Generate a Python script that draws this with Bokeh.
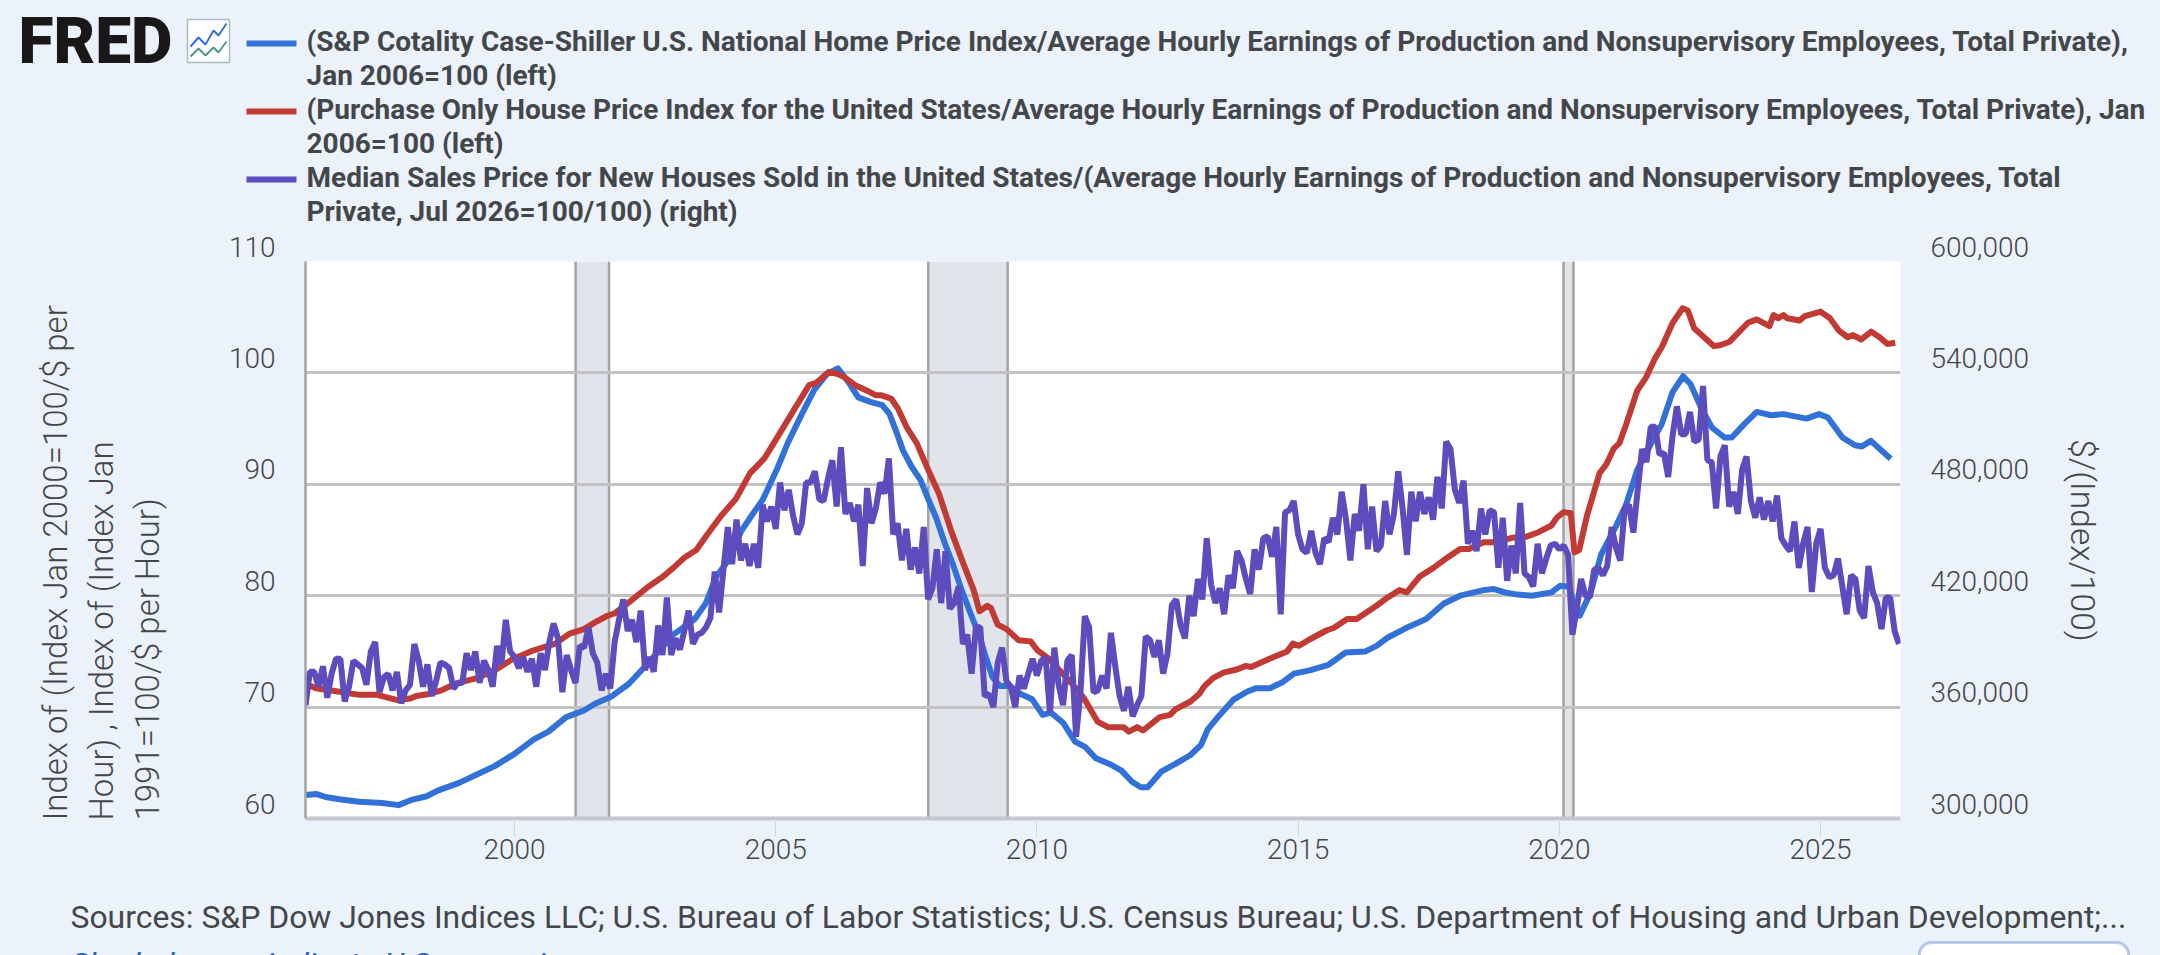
import numpy as np
from math import pi
from bokeh.plotting import figure
from bokeh.layouts import column, row
from bokeh.core.properties import value
from bokeh.models import Range1d, FixedTicker, BoxAnnotation
from bokeh.embed import file_html
from bokeh.resources import INLINE

# ---------- data ----------
blue_dates = [1996.0,1996.2,1996.41,1996.68,1997.03,1997.47,1997.78,1998.05,1998.32,1998.53,1998.94,1999.35,1999.62,2000.0,2000.37,2000.65,2000.99,2001.33,2001.54,2001.84,2002.19,2002.49,2003.04,2003.45,2003.66,2003.86,2004.13,2004.34,2004.54,2004.75,2005.02,2005.23,2005.5,2005.74,2005.98,2006.19,2006.39,2006.58,2006.81,2007.04,2007.18,2007.31,2007.44,2007.6,2007.77,2007.9,2008.07,2008.23,2008.4,2008.56,2008.73,2008.89,2009.02,2009.15,2009.29,2009.48,2009.68,2009.91,2010.11,2010.27,2010.5,2010.73,2010.93,2011.13,2011.39,2011.62,2011.82,2011.99,2012.12,2012.38,2012.65,2012.94,2013.14,2013.27,2013.5,2013.77,2014.03,2014.2,2014.46,2014.69,2014.92,2015.22,2015.58,2015.91,2016.29,2016.5,2016.7,2017.11,2017.45,2017.79,2018.1,2018.55,2018.75,2018.96,2019.2,2019.47,2019.85,2020.02,2020.19,2020.26,2020.39,2020.6,2020.8,2021.08,2021.28,2021.49,2021.76,2021.96,2022.17,2022.37,2022.51,2022.72,2022.92,2023.16,2023.3,2023.54,2023.78,2024.05,2024.29,2024.73,2024.97,2025.14,2025.42,2025.66,2025.79,2025.96,2026.13,2026.34]
blue_values = [62.1,62.2,61.9,61.7,61.5,61.4,61.2,61.7,62.0,62.5,63.2,64.1,64.7,65.8,67.1,67.8,69.1,69.7,70.3,70.9,72.1,73.6,76.5,77.9,79.3,81.7,83.4,85.8,87.2,88.6,91.3,93.7,96.3,98.5,99.9,100.4,99.2,97.8,97.4,97.1,96.3,94.7,93.0,91.6,90.4,88.9,87.0,84.8,82.7,80.5,78.4,76.5,74.5,72.7,71.9,71.9,71.2,70.7,69.3,69.5,68.6,66.9,66.4,65.4,64.9,64.3,63.3,62.8,62.8,64.2,64.9,65.7,66.6,68.0,69.3,70.7,71.4,71.7,71.7,72.2,73.0,73.3,73.8,74.9,75.0,75.5,76.2,77.2,77.9,79.3,80.0,80.5,80.6,80.3,80.1,80.0,80.3,80.9,80.8,79.5,78.2,80.3,83.7,86.2,88.2,91.3,93.7,95.4,98.3,99.7,99.0,96.8,95.1,94.2,94.2,95.4,96.5,96.2,96.3,95.9,96.3,96.0,94.2,93.5,93.4,93.9,93.2,92.3]

red_dates = [1996.0,1996.2,1996.62,1997.03,1997.37,1997.78,1998.02,1998.12,1998.39,1998.6,1998.87,1999.28,1999.62,1999.96,2000.31,2000.58,2000.78,2001.06,2001.33,2001.54,2001.78,2001.91,2002.19,2002.56,2002.84,2003.04,2003.25,2003.48,2003.69,2003.96,2004.24,2004.51,2004.78,2004.99,2005.3,2005.64,2005.77,2006.02,2006.19,2006.32,2006.52,2006.75,2006.91,2007.01,2007.21,2007.34,2007.51,2007.7,2007.9,2008.13,2008.36,2008.59,2008.79,2008.9,2009.05,2009.12,2009.25,2009.42,2009.65,2009.88,2010.01,2010.24,2010.47,2010.67,2010.9,2011.16,2011.36,2011.66,2011.76,2011.92,2012.03,2012.35,2012.55,2012.65,2012.94,2013.11,2013.21,2013.37,2013.57,2013.84,2014.0,2014.1,2014.43,2014.79,2014.9,2015.02,2015.19,2015.55,2015.68,2015.94,2016.12,2016.5,2016.7,2016.94,2017.08,2017.32,2017.59,2017.79,2018.1,2018.27,2018.55,2018.79,2019.09,2019.37,2019.6,2019.85,2019.95,2020.08,2020.22,2020.29,2020.38,2020.53,2020.77,2020.9,2021.04,2021.15,2021.28,2021.49,2021.66,2021.83,2021.96,2022.17,2022.36,2022.46,2022.58,2022.75,2022.96,2023.09,2023.26,2023.61,2023.78,2024.02,2024.1,2024.19,2024.29,2024.36,2024.6,2024.7,2025.0,2025.18,2025.35,2025.52,2025.62,2025.78,2025.97,2026.13,2026.28,2026.43]
red_values = [72.1,71.7,71.4,71.1,71.1,70.6,70.8,71.0,71.2,71.5,72.1,72.6,73.3,74.3,75.0,75.4,75.7,76.6,77.0,77.6,78.2,78.4,79.4,80.8,81.7,82.5,83.4,84.1,85.5,87.2,88.7,91.0,92.3,93.9,96.3,98.9,99.1,100.1,99.9,99.6,98.9,98.4,98.0,98.0,97.7,96.8,95.1,93.7,91.5,89.1,85.8,82.9,80.5,78.6,79.1,78.9,77.4,77.0,76.0,75.9,75.1,74.3,73.1,72.1,70.8,68.7,68.2,68.2,67.8,68.2,67.9,69.1,69.3,69.8,70.5,71.2,71.9,72.6,73.1,73.4,73.7,73.6,74.3,75.0,75.7,75.5,76.0,76.9,77.1,77.9,77.9,79.1,79.8,80.5,80.3,81.7,82.5,83.2,84.2,84.2,84.8,84.8,85.2,85.3,85.7,86.3,87.0,87.5,87.4,83.9,84.1,87.2,91.0,91.8,93.2,93.7,95.4,98.4,99.6,101.3,102.3,104.5,105.8,105.6,104.0,103.3,102.4,102.5,102.8,104.5,104.8,104.2,105.2,104.9,105.2,104.9,104.7,105.1,105.5,104.9,103.8,103.2,103.4,103.0,103.7,103.2,102.6,102.7]

# monthly from Jan 1996 to Jul 2026, in dollars (thousands), right axis
purple_k = [
 361,379,379,371,382,365,378,386,386,363,371,385,
 383,381,372,390,395,368,376,378,369,379,362,369,
 372,394,385,371,383,366,374,384,383,381,370,373,
 373,389,380,390,373,385,380,371,393,383,407,390,
 387,381,387,379,386,371,389,380,395,405,397,368,
 388,380,373,393,392,403,389,384,369,378,370,395,
 407,418,401,407,395,412,380,387,379,404,388,419,
 388,397,391,401,412,394,399,400,403,408,433,411,
 434,457,437,461,439,448,436,448,435,469,460,468,
 456,481,466,477,463,453,459,481,481,487,472,471,
 483,493,468,500,464,470,460,469,436,478,459,467,
 481,475,494,453,459,439,456,434,446,432,457,418,
 424,445,416,444,413,416,425,394,399,378,403,403,
 366,367,360,384,392,374,371,360,377,370,378,386,
 377,385,387,357,392,372,361,385,388,344,368,409,
 403,368,369,377,370,400,382,366,358,371,355,361,
 366,398,396,387,396,378,389,415,418,404,397,420,
 409,429,418,451,426,416,424,410,431,424,444,439,
 429,421,445,434,451,452,441,457,410,465,466,471,
 453,445,443,455,443,437,451,449,462,453,476,461,
 439,464,455,480,445,468,444,447,471,453,464,487,
 467,442,476,460,476,464,473,461,484,467,503,499,
 477,470,482,448,455,444,467,453,466,465,435,462,
 428,447,432,470,432,430,425,448,432,440,447,448,
 445,447,442,399,413,429,420,419,434,435,431,436,
 457,446,439,467,469,454,477,499,492,511,511,496,
 497,484,506,522,507,507,519,503,504,533,493,492,
 467,495,501,468,476,464,488,495,471,462,473,461,
 471,460,474,451,447,444,460,435,448,457,422,448,
 456,435,430,431,440,425,410,431,429,412,408,436,
 422,416,402,419,419,401,394]

rec_start = [2001.17, 2007.92, 2020.08]
rec_end = [2001.81, 2009.44, 2020.27]

left_ticks = [60, 70, 80, 90, 100, 110]
right_ticks = [300000, 360000, 420000, 480000, 540000, 600000]
year_ticks = [2000, 2005, 2010, 2015, 2020, 2025]

legend_lines = [
 "(S&P Cotality Case-Shiller U.S. National Home Price Index/Average Hourly Earnings of Production and Nonsupervisory Employees, Total Private),",
 "Jan 2006=100 (left)",
 "(Purchase Only House Price Index for the United States/Average Hourly Earnings of Production and Nonsupervisory Employees, Total Private), Jan",
 "2006=100 (left)",
 "Median Sales Price for New Houses Sold in the United States/(Average Hourly Earnings of Production and Nonsupervisory Employees, Total",
 "Private, Jul 2026=100/100) (right)",
]
left_title = ["Index of (Index Jan 2000=100/$ per", "Hour) , Index of (Index Jan", "1991=100/$ per Hour)"]
right_title = "$/(Index/100)"
source_text = "Sources: S&P Dow Jones Indices LLC; U.S. Bureau of Labor Statistics; U.S. Census Bureau; U.S. Department of Housing and Urban Development;..."
shaded_text = "Shaded areas indicate U.S. recessions"

# ---------- styling and page layout ----------
BG = "#ebf2fb"
BLUE, RED, PURPLE = "#3272d8", "#c13a33", "#5d4cbd"
TXT = "#44474a"
LIGHT = "Roboto Light"
W, H = 2160, 955
F_L, F_R, F_T, F_B = 305, 1900, 261, 818   # plot frame on the page
TOP_H = 231                                # legend strip height
MID_B = 880                                # page y where the plot row ends
PAD = 3
px_per = (F_B - F_T) / 50                  # pixels per left-axis unit
HOST = {"background-color": BG}


def strip(w, h, x0, y0):
    f = figure(width=w, height=h, output_backend="svg", toolbar_location=None,
               x_range=Range1d(x0, x0 + w), y_range=Range1d(y0 + h, y0),
               x_axis_location=None, y_axis_location=None, min_border=0, frame_align=False,
               background_fill_color=BG, border_fill_color=BG, outline_line_color=None, styles=HOST)
    f.grid.visible = False
    return f


def write(f, text, x, y, size="28px", font=LIGHT, style="normal", color=TXT, align="left",
          angle=0.0, **kw):
    f.text([x], [y], text=[text], text_font=value(font), text_font_size=size, text_font_style=style,
           text_color=color, text_align=align, text_baseline="middle", angle=angle, **kw)


# ---------- top strip: logo and legend ----------
top = strip(W, TOP_H, 0, 0)
write(top, "FRED", 18, 41, size="64px", font="Roboto Black", color="#1a1718")
top.quad(left=[187], right=[229], top=[19], bottom=[62], fill_color="white", line_color="#a9bbc6", line_width=1.5)
top.line([190, 198, 205, 213, 218, 226], [46, 37, 44, 30, 35, 23], line_color=BLUE, line_width=2)
top.line([190, 198, 205, 213, 218, 226], [56, 48, 55, 47, 52, 41], line_color="#4f9a8e", line_width=2)
for i, t in enumerate(legend_lines):
    write(top, t, 306, 41 + 34 * i, size="28px", font="Roboto", style="bold")
for c, yy in zip([BLUE, RED, PURPLE], [43, 111, 179]):
    top.segment([246], [yy], [296], [yy], line_color=c, line_width=6)

# ---------- main plot ----------
p = figure(width=F_R - F_L + 2 * PAD, height=MID_B - TOP_H, output_backend="svg", toolbar_location=None,
           x_range=Range1d(1996.0, 2026.53), y_range=Range1d(60, 110), frame_align=False, styles=HOST,
           min_border_left=PAD, min_border_right=PAD, min_border_top=F_T - TOP_H, min_border_bottom=MID_B - F_B,
           background_fill_color="white", border_fill_color=BG, outline_line_color=None)
p.extra_y_ranges = {"right": Range1d(300000, 600000)}
p.xgrid.visible = False
p.ygrid.ticker = FixedTicker(ticks=left_ticks)
p.ygrid.grid_line_color = "#c2c2c2"
p.ygrid.grid_line_width = 3

ax = p.xaxis[0]
ax.ticker = FixedTicker(ticks=year_ticks)
ax.axis_line_color = "#c4c7ce"
ax.axis_line_width = 4
ax.major_tick_line_color = "#d0d6e2"
ax.major_tick_out = 18
ax.major_tick_in = 0
ax.minor_tick_line_color = None
ax.major_label_text_font = LIGHT
ax.major_label_text_font_size = "28px"
ax.major_label_text_color = TXT
ax.major_label_standoff = 2

ay = p.yaxis[0]
ay.ticker = FixedTicker(ticks=[])
ay.axis_line_color = "#a3a3a3"
ay.axis_line_width = 2.5
ay.major_tick_line_color = None
ay.minor_tick_line_color = None

q = p.quad(left=rec_start, right=rec_end, bottom=60, top=110, fill_color="#e1e4ea", line_color=None)
q.level = "image"
s = p.segment(x0=rec_start + rec_end, x1=rec_start + rec_end, y0=[60] * 6, y1=[110] * 6,
              line_color="#a3a3a3", line_width=2.5)
s.level = "image"

purple_dates = 1996 + np.arange(len(purple_k)) / 12
purple_values = np.array(purple_k) * 1000
p.line(blue_dates, blue_values, line_color=BLUE, line_width=6, line_join="round")
p.line(red_dates, red_values, line_color=RED, line_width=6, line_join="round")
p.line(purple_dates, purple_values, y_range_name="right", line_color=PURPLE, line_width=6,
       line_join="bevel")

# ---------- side strips carry the value labels and axis titles ----------
left = strip(F_L - PAD, MID_B - TOP_H, 0, TOP_H)
left.extra_y_ranges = {"value": Range1d(60 - (MID_B - F_B) / px_per, 110 + (F_T - TOP_H) / px_per)}
for v in left_ticks:
    write(left, str(v), 275, v, align="right", y_range_name="value", y_offset=-15)
for t, xx in zip(left_title, [55, 101, 147]):
    write(left, t, xx, 820, size="33px", angle=pi / 2)

right = strip(W - F_R - PAD, MID_B - TOP_H, F_R + PAD, TOP_H)
right.extra_y_ranges = {"value": Range1d(300000 - 6000 * (MID_B - F_B) / px_per,
                                         600000 + 6000 * (F_T - TOP_H) / px_per)}
for v in right_ticks:
    write(right, f"{v:,}", 1930, v, y_range_name="value", y_offset=-15)
write(right, right_title, 2082, 540, size="33.6px", angle=-pi / 2, align="center")

# ---------- footer ----------
foot = strip(W, H - MID_B, 0, MID_B)
write(foot, source_text, 70, 916, size="31.9px", font="Roboto")
write(foot, shaded_text, 70, 963, size="32px", font="Roboto", style="italic", color="#2a62b8")
foot.add_layout(BoxAnnotation(left=1919, right=2128, top=942, bottom=985, fill_color="white", fill_alpha=1,
                              line_color="#1f58b0", line_width=3, border_radius=12))

page = column(top, row(left, p, right, spacing=0, styles=HOST), foot, spacing=0, styles=HOST)
open("out.html", "w").write(file_html(page, INLINE))
